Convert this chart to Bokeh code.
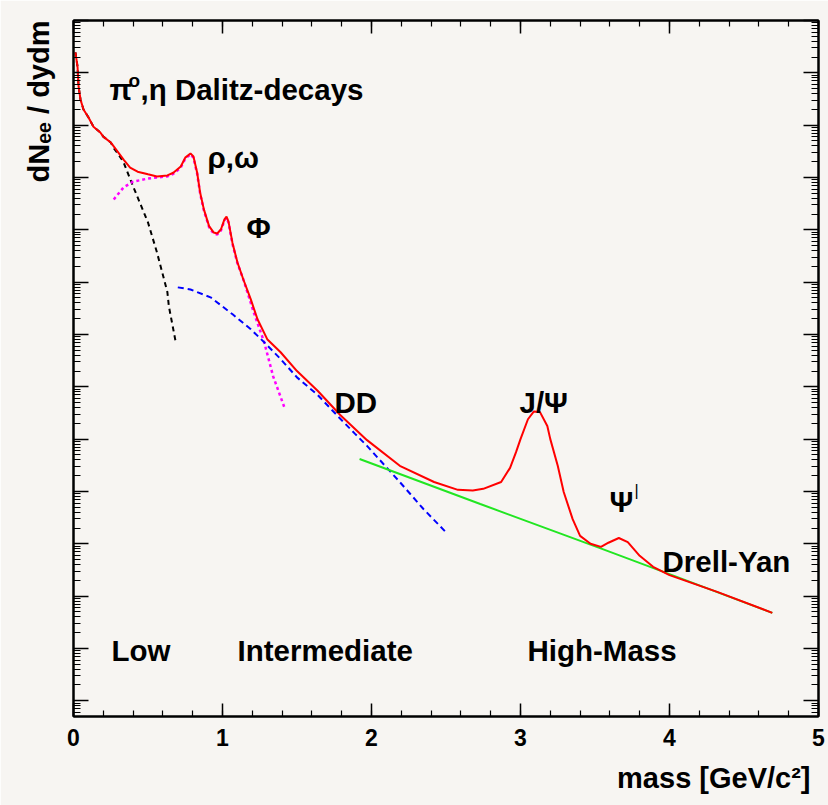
import numpy as np
from bokeh.plotting import figure
from bokeh.models import (FixedTicker, LinearAxis, LogAxis, Label, Range1d, Title,
                          CustomJSTickFormatter)
from bokeh.embed import file_html
from bokeh.resources import INLINE

# ---------------- data (mass in GeV/c^2, dN/dydm as log10 values) ----------------
total_mass = [0.013, 0.027, 0.034, 0.047, 0.067, 0.10, 0.134, 0.18, 0.20, 0.25, 0.295, 0.336, 0.38,
              0.43, 0.50, 0.56, 0.63, 0.67, 0.72, 0.75, 0.785, 0.805, 0.83, 0.85, 0.875, 0.91, 0.94,
              0.965, 0.99, 1.013, 1.027, 1.04, 1.067, 1.10, 1.14, 1.19, 1.235, 1.30, 1.39,
              1.50, 1.64, 1.79, 1.97, 2.19, 2.42, 2.58, 2.68, 2.75, 2.87, 2.93, 2.97, 3.0, 3.05,
              3.09, 3.13, 3.18, 3.20, 3.25, 3.29, 3.35, 3.40, 3.47, 3.54, 3.59, 3.66, 3.72, 3.80,
              3.89, 4.0, 4.32, 4.69]
total_log10 = [12.39, 12.12, 11.74, 11.49, 11.30, 11.15, 10.97, 10.86, 10.78, 10.67, 10.50, 10.34, 10.19,
               10.11, 10.06, 10.02, 10.04, 10.09, 10.21, 10.38, 10.46, 10.40, 10.09, 9.71, 9.39, 9.07, 8.95,
               8.93, 9.01, 9.20, 9.25, 9.16, 8.75, 8.38, 8.05, 7.67, 7.29, 6.91, 6.66,
               6.30, 5.92, 5.46, 4.98, 4.49, 4.18, 4.03, 4.02, 4.05, 4.18, 4.45, 4.75, 5.0, 5.38,
               5.53, 5.52, 5.25, 5.0, 4.49, 3.99, 3.47, 3.15, 3.0, 2.94, 3.02, 3.11, 3.03, 2.77,
               2.56, 2.40, 2.08, 1.68]

dalitz_mass = [0.013, 0.027, 0.034, 0.047, 0.067, 0.10, 0.134, 0.18, 0.20, 0.25, 0.27, 0.30, 0.336,
               0.40, 0.50, 0.56, 0.63, 0.64, 0.685]
dalitz_log10 = [12.39, 12.12, 11.74, 11.49, 11.30, 11.15, 10.97, 10.86, 10.78, 10.67, 10.56, 10.45, 10.29,
                9.83, 9.14, 8.57, 7.81, 7.54, 6.87]

vector_mass = [0.27, 0.336, 0.40, 0.50, 0.56, 0.63, 0.67, 0.72, 0.75, 0.785, 0.805, 0.83, 0.85, 0.875,
               0.91, 0.94, 0.965, 0.99, 1.013, 1.027, 1.04, 1.067, 1.10, 1.14, 1.21, 1.28, 1.34, 1.42]
vector_log10 = [9.58, 9.81, 9.92, 9.98, 10.0, 10.02, 10.07, 10.19, 10.36, 10.44, 10.38, 10.07, 9.69, 9.37,
                9.05, 8.93, 8.91, 8.99, 9.18, 9.23, 9.14, 8.73, 8.36, 8.05, 7.42, 6.85, 6.20, 5.57]

charm_mass = [0.70, 0.785, 0.92, 1.07, 1.19, 1.28, 1.39, 1.50, 1.64, 1.77, 1.89, 1.97, 2.19, 2.35, 2.50]
charm_log10 = [7.90, 7.86, 7.71, 7.38, 7.10, 6.85, 6.53, 6.18, 5.84, 5.45, 5.10, 4.87, 4.18, 3.66, 3.22]

dy_mass = [1.92, 2.73, 3.52, 4.0, 4.69]
dy_log10 = [4.62, 3.76, 2.93, 2.42, 1.68]

x_ticks = [0, 1, 2, 3, 4, 5]
x_tick_labels = {0: "0", 1: "1", 2: "2", 3: "3", 4: "4", 5: "5"}
y_decades = list(range(0, 14))

def vals(lg):
    return [10.0 ** v for v in lg]

# ---------------- figure ----------------
BG = "#f7f5f2"
FONT = "Liberation Sans"

p = figure(width=828, height=805, x_range=Range1d(0, 5), y_range=Range1d(0.5, 1e13),
           y_axis_type="log", output_backend="svg", toolbar_location=None,
           min_border_left=73, min_border_right=10, min_border_top=20, min_border_bottom=88)
p.background_fill_color = BG
p.border_fill_color = BG
p.outline_line_color = "black"
p.outline_line_width = 2
p.grid.visible = False

xt = FixedTicker(ticks=x_ticks, minor_ticks=[i * 0.2 for i in range(26)])
yt = FixedTicker(ticks=[10.0 ** d for d in y_decades],
                 minor_ticks=[k * 10.0 ** d for d in range(-1, 14) for k in range(2, 10)])

def style_axis(ax, ticker, show_labels, maj_len, min_len):
    ax.ticker = ticker
    ax.axis_line_color = "black"
    ax.axis_line_width = 2
    ax.major_tick_line_color = "black"
    ax.minor_tick_line_color = "black"
    ax.major_tick_line_width = 1.5
    ax.minor_tick_line_width = 1.2
    ax.major_tick_in = maj_len
    ax.major_tick_out = 0
    ax.minor_tick_in = min_len
    ax.minor_tick_out = 0
    if show_labels:
        ax.major_label_text_font = FONT
        ax.major_label_text_font_style = "bold"
        ax.major_label_text_font_size = "23px"
        ax.major_label_text_color = "black"
        ax.major_label_standoff = 12
    else:
        ax.formatter = CustomJSTickFormatter(code="return '';")
        ax.major_label_standoff = 0

style_axis(p.xaxis[0], xt, True, 13, 6)
p.xaxis[0].major_label_overrides = x_tick_labels
style_axis(p.yaxis[0], yt, False, 15, 7)

top = LinearAxis()
style_axis(top, xt, False, 13, 6)
p.add_layout(top, "above")
right = LogAxis()
style_axis(right, yt, False, 15, 7)
p.add_layout(right, "right")

# axis titles (placed in the side panels so they are not clipped)
p.add_layout(Title(text="mass [GeV/c²]", align="right", text_font=FONT, text_font_style="bold",
                   text_font_size="29px", text_color="black", offset=8, standoff=23), "below")
p.add_layout(Title(text="dNₑₑ / dydm", align="right", text_font=FONT, text_font_style="bold",
                   text_font_size="29px", text_color="black", offset=0, standoff=38), "left")

# ---------------- curves ----------------
p.line(dalitz_mass, vals(dalitz_log10), line_color="black", line_width=2, line_dash="5 4")
p.line(vector_mass, vals(vector_log10), line_color="#ff00ff", line_width=2.5, line_dash="3 3")
p.line(charm_mass, vals(charm_log10), line_color="#0000ff", line_width=2, line_dash="6 4")
p.line(dy_mass, vals(dy_log10), line_color="#22e622", line_width=2)
p.line(total_mass, vals(total_log10), line_color="#ff0000", line_width=2)

# ---------------- text ----------------
def X(px):
    return (px - 73) / 149.0

def Y(py):
    return 10.0 ** ((702 - py) / 52.4)

def txt(s, px, py, size=29.5, bold=True, align="left", angle=0.0, font=FONT):
    p.add_layout(Label(x=X(px), y=Y(py), text=s, text_font=font, text_font_size=f"{size}px",
                       text_font_style="bold" if bold else "normal", text_color="black",
                       text_align=align, text_baseline="alphabetic", angle=angle))

txt("π", 109, 90)
txt("o", 128, 81, size=19)
txt(",η Dalitz-decays", 140, 90)
txt("ρ,ω", 207, 158)
txt("Φ", 246, 228)
txt("DD", 334, 403)
txt("J/Ψ", 519, 403)
txt("Ψ", 609, 502)
txt("|", 634, 491, size=16, bold=False)
txt("Drell-Yan", 662, 563)
txt("Low", 111, 652)
txt("Intermediate", 237, 652)
txt("High-Mass", 527, 652)

open("out.html", "w").write(file_html(p, INLINE))
